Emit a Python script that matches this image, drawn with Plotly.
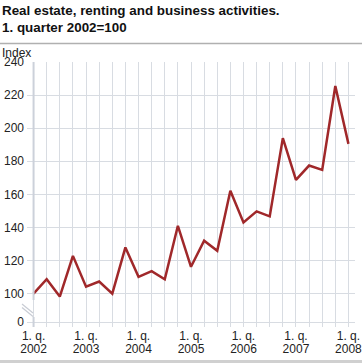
import plotly.graph_objects as go

quarters = [f"{y}Q{q}" for y in range(2002, 2008) for q in range(1, 5)] + ["2008Q1"]
index_values = [100.0, 108.7, 98.2, 122.8, 104.2, 107.3, 100.0, 127.9,
                110.1, 113.6, 108.7, 141.0, 116.2, 132.0, 125.9, 162.2,
                143.0, 149.7, 146.7, 194.0, 168.7, 177.4, 174.8, 225.5,
                190.5]
y_tick_values = [100, 120, 140, 160, 180, 200, 220, 240]

x_pos = list(range(len(quarters)))
q_text, year_text = [], []
for qs in quarters:
    y, q = qs.split("Q")
    q_text.append("1. q." if q == "1" else "")
    year_text.append(y if q == "1" else "")

ZERO_POS = 82.8  # broken-axis position of the 0 tick
yvals = [ZERO_POS] + y_tick_values
ytext = ["0"] + [str(v) for v in y_tick_values]

fig = go.Figure()
fig.add_trace(go.Scatter(
    x=x_pos, y=index_values, mode="lines",
    line=dict(color="#a0282a", width=2.5),
    hoverinfo="skip", showlegend=False,
))
# invisible trace to activate the second x axis (year labels)
fig.add_trace(go.Scatter(
    x=x_pos, y=index_values, mode="lines", xaxis="x2",
    line=dict(width=0), opacity=0, hoverinfo="skip", showlegend=False,
))

grid = "#d8dce2"
FONT = "Liberation Sans, Arial, sans-serif"
xr = [-0.5, len(quarters) - 0.5]
fig.update_layout(
    width=362, height=364,
    margin=dict(l=27, r=7, t=62, b=37, autoexpand=False),
    plot_bgcolor="white", paper_bgcolor="white",
    font=dict(family=FONT, size=12, color="#222"),
    showlegend=False,
    xaxis=dict(
        range=xr,
        tickmode="array", tickvals=x_pos, ticktext=q_text,
        showgrid=True, gridcolor=grid, gridwidth=1,
        zeroline=False, showline=False, ticks="",
        tickfont=dict(size=12, color="#222"),
        ticklabeloverflow="allow",
        automargin=False, fixedrange=True,
    ),
    xaxis2=dict(
        range=xr, overlaying="x", side="bottom", anchor="y",
        tickmode="array", tickvals=x_pos, ticktext=year_text,
        showgrid=False, zeroline=False, showline=False, ticks="",
        ticklabelstandoff=13,
        tickfont=dict(size=12, color="#222"),
        ticklabeloverflow="allow",
        automargin=False, fixedrange=True,
    ),
    yaxis=dict(
        range=[79.8, 240],
        tickmode="array", tickvals=yvals, ticktext=ytext,
        showgrid=True, gridcolor=grid, gridwidth=1,
        zeroline=False, showline=False, ticks="",
        ticklabelstandoff=2,
        tickfont=dict(size=12, color="#222"),
        automargin=False, fixedrange=True,
    ),
    annotations=[
        dict(text="<b>Real estate, renting and business activities.</b>",
             xref="paper", yref="paper", x=-27/328, y=1 + (62 - 1) / 265,
             xanchor="left", yanchor="top", showarrow=False,
             font=dict(size=13.4, color="#111", family=FONT)),
        dict(text="<b>1. quarter 2002=100</b>",
             xref="paper", yref="paper", x=-27/328, y=1 + (62 - 18.5) / 265,
             xanchor="left", yanchor="top", showarrow=False,
             font=dict(size=13.4, color="#111", family=FONT)),
        dict(text="Index",
             xref="paper", yref="paper", x=-27/328, y=1 + (62 - 44) / 265,
             xanchor="left", yanchor="top", showarrow=False,
             font=dict(size=12, color="#222", family=FONT)),
    ],
    shapes=[
        dict(type="line", xref="paper", yref="paper",
             x0=-27/328, x1=1 + 7/328, y0=1 + (62 - 43.5) / 265, y1=1 + (62 - 43.5) / 265,
             line=dict(color="#b0b0b0", width=1.5)),
        dict(type="line", xref="paper", yref="paper",
             x0=-27/328, x1=1 + 7/328, y0=-(361.5 - 327) / 265, y1=-(361.5 - 327) / 265,
             line=dict(color="#d0d0d0", width=3)),
        dict(type="line", xref="x", yref="paper", x0=0, x1=0,
             y0=(327 - 300) / 265, y1=1, line=dict(color="#ccd1da", width=2)),
        dict(type="line", xref="x", yref="paper", x0=0, x1=0,
             y0=0, y1=(327 - 317) / 265, line=dict(color="#ccd1da", width=2)),
        dict(type="line", xref="paper", yref="paper",
             x0=(22 - 27) / 328, x1=(33 - 27) / 328,
             y0=(327 - 304) / 265, y1=(327 - 313) / 265,
             line=dict(color="#c8ccd4", width=1.2)),
        dict(type="line", xref="paper", yref="paper",
             x0=(22 - 27) / 328, x1=(33 - 27) / 328,
             y0=(327 - 307.5) / 265, y1=(327 - 316.5) / 265,
             line=dict(color="#c8ccd4", width=1.2)),
    ],
)

fig.write_html(
    "out.html",
    config={"displayModeBar": False},
    post_script="document.body.style.margin='0';document.body.style.overflow='hidden';",
)
